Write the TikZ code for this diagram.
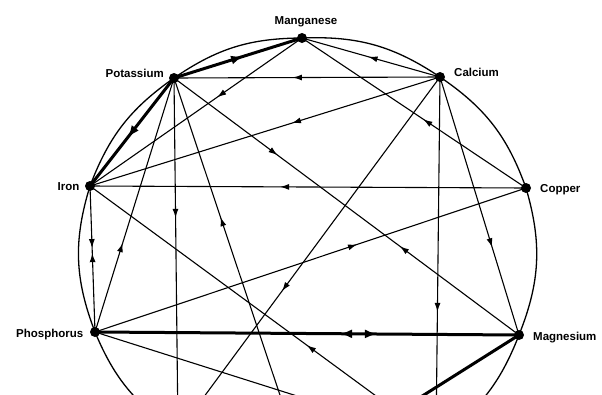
\documentclass[tikz,border=0pt]{standalone}
\usepackage{fontspec}
\setmainfont{Liberation Sans}
\usetikzlibrary{arrows.meta,decorations.markings}
\begin{document}
\begin{tikzpicture}[x=1pt,y=-1pt,
  dot/.style={circle,fill=black,inner sep=0pt,minimum size=10pt},
  lbl/.style={inner sep=0pt,font=\fontsize{11.5}{13}\selectfont\bfseries},
  rim/.style={line width=1.3pt},
  thinedge/.style={line width=1.1pt},
  thickedge/.style={line width=3pt},
  fwd/.style={postaction={decorate,decoration={markings,mark=at position #1 with {\arrow{Latex[length=9pt,width=6pt]}}}}},
  bwd/.style={postaction={decorate,decoration={markings,mark=at position #1 with {\arrowreversed{Latex[length=9pt,width=6pt]}}}}},
  fwdT/.style={postaction={decorate,decoration={markings,mark=at position #1 with {\arrow{Latex[length=12pt,width=9pt]}}}}},
  bwdT/.style={postaction={decorate,decoration={markings,mark=at position #1 with {\arrowreversed{Latex[length=12pt,width=9pt]}}}}}
]
\useasboundingbox (0,0) rectangle (602,394);
\clip (0,0) rectangle (602,394);
\fill[white] (0,0) rectangle (602,394);

% element nodes
\node[dot] (Mn) at (302,38) {};
\node[dot] (K)  at (174,78) {};
\node[dot] (Ca) at (440,77) {};
\node[dot] (Fe) at (90,186) {};
\node[dot] (Cu) at (526,188) {};
\node[dot] (P)  at (95,332) {};
\node[dot] (Mg) at (519,335) {};
% nodes below the visible part
\coordinate (Z1) at (178,432);
\coordinate (Z2) at (305,470);
\coordinate (Z3) at (436,440);

% labels
\node[lbl,anchor=base] (lMn) at (306,24) {Manganese};
\node[lbl,anchor=base east] (lK) at (164,77.5) {Potassium};
\node[lbl,anchor=base west] (lCa) at (454,76.5) {Calcium};
\node[lbl,anchor=base east] (lFe) at (79.5,190) {Iron};
\node[lbl,anchor=base west] (lCu) at (540,192) {Copper};
\node[lbl,anchor=base east] (lP) at (83.5,337.5) {Phosphorus};
\node[lbl,anchor=base west] (lMg) at (533,340) {Magnesium};

% outline
\draw[rim] (K.center) to[bend left=17] (Mn.center) to[bend left=18] (Ca.center)
  to[bend left=18] (Cu.center) to[bend left=19] (Mg.center) to[bend left=17] (Z3)
  to[bend left=17] (Z2) to[bend left=17] (Z1) to[bend left=17] (P.center)
  to[bend left=19] (Fe.center) to[bend left=17] (K.center);

% connectors
\draw[thickedge,fwdT=0.54] (K.center) -- (Mn.center);
\draw[thickedge,fwdT=0.55] (K.center) -- (Fe.center);
\draw[thickedge,bwdT=0.578,fwdT=0.665] (P.center) -- (Mg.center);
\draw[thickedge] (Mg.center) -- (Z2);

\draw[thinedge,fwd=0.553] (Ca.center) -- (K.center);
\draw[thinedge,fwd=0.40] (Mn.center) -- (Fe.center);
\draw[thinedge,fwd=0.423] (Ca.center) -- (Fe.center);
\draw[thinedge,fwd=0.30,bwd=0.655] (K.center) -- (Mg.center);
\draw[thinedge,fwd=0.458] (Cu.center) -- (Mn.center);
\draw[thinedge,fwd=0.518] (Ca.center) -- (Mn.center);
\draw[thinedge,fwd=0.564] (Cu.center) -- (Fe.center);
\draw[thinedge,fwd=0.608] (P.center) -- (Cu.center);
\draw[thinedge,fwd=0.425,bwd=0.46] (Fe.center) -- (P.center);
\draw[thinedge,fwd=0.35] (P.center) -- (K.center);
\draw[thinedge,fwd=0.395] (K.center) -- (Z1);
\draw[thinedge,fwd=0.645] (Z2) -- (K.center);
\draw[thinedge,fwd=0.603] (Ca.center) -- (Z1);
\draw[thinedge,fwd=0.373] (Z3) -- (Fe.center);
\draw[thinedge,fwd=0.647] (Ca.center) -- (Z3);
\draw[thinedge,fwd=0.66] (Ca.center) -- (Mg.center);
\draw[thinedge] (P.center) -- (Z3);
\end{tikzpicture}
\end{document}
